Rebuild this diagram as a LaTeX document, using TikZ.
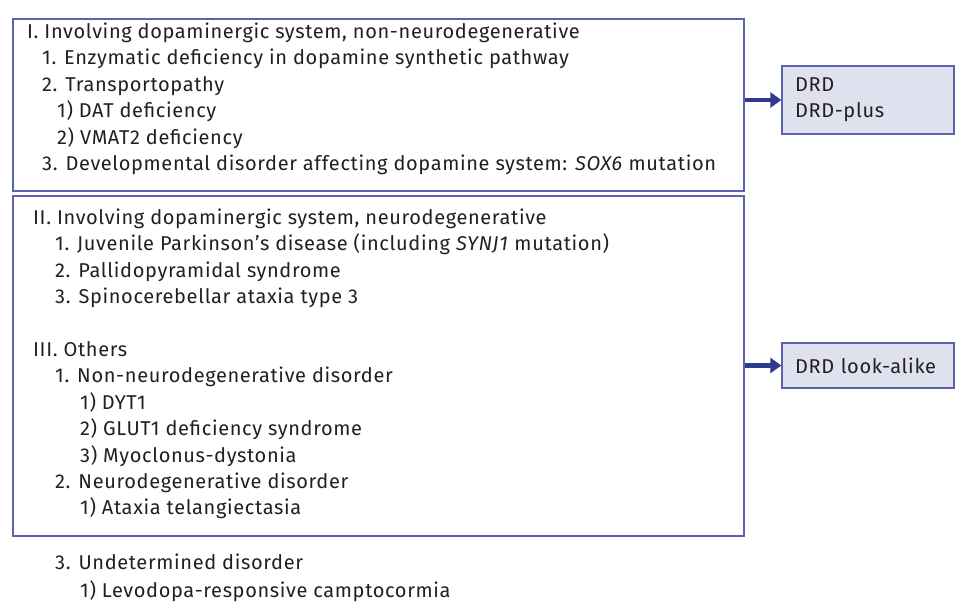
\documentclass[tikz,border=0pt]{standalone}
\usepackage{fontspec}
\setmainfont{Fira Sans}[LetterSpace=3.2]
\usetikzlibrary{arrows.meta}
\definecolor{boxline}{HTML}{5B63AC}
\definecolor{arrowblue}{HTML}{2E3A8C}
\definecolor{boxfill}{HTML}{DFE1EE}
\definecolor{txt}{HTML}{231F20}
\tikzset{
  line/.style={anchor=base west,inner sep=0pt,text=txt,font=\fontsize{20}{26.4}\selectfont},
  bigbox/.style={draw=boxline,line width=1.3pt,minimum width=731pt,inner sep=0pt},
  sidebox/.style={draw=boxline,fill=boxfill,line width=1.3pt,minimum width=172pt,text width=146pt,inner xsep=13pt,align=left,text=txt,font=\fontsize{20}{26.4}\selectfont},
  link/.style={draw=arrowblue,line width=4.5pt,-{Triangle[length=11pt,width=15pt]}}
}
\begin{document}
\begin{tikzpicture}[x=1pt,y=-1pt]
\useasboundingbox(0,0)rectangle(956,602);
% the two boxes on the left
\node[bigbox,minimum height=172pt](boxA)at(378.5,105){};
\node[bigbox,minimum height=340pt](boxB)at(378.5,366){};
% list lines: x/baseline/text
\foreach \n/\x/\y/\t in {
 a1/27/38.5/{I. Involving dopaminergic system, non-neurodegenerative},
 a2/42/64.9/{1. Enzymatic deficiency in dopamine synthetic pathway},
 a3/42/91.3/{2. Transportopathy},
 a4/57/117.7/{1) DAT deficiency},
 a5/57/144.1/{2) VMAT2 deficiency},
 a6/42/170.5/{3. Developmental disorder affecting dopamine system: \textit{SOX6} mutation},
 b1/33/224.5/{II. Involving dopaminergic system, neurodegenerative},
 b2/55/250.9/{1. Juvenile Parkinson’s disease (including \textit{SYNJ1} mutation)},
 b3/55/277.3/{2. Pallidopyramidal syndrome},
 b4/55/303.7/{3. Spinocerebellar ataxia type 3},
 b5/33/356.5/{III. Others},
 b6/55/382.9/{1. Non-neurodegenerative disorder},
 b7/80/409.3/{1) DYT1},
 b8/80/435.7/{2) GLUT1 deficiency syndrome},
 b9/80/462.1/{3) Myoclonus-dystonia},
 b10/55/488.5/{2. Neurodegenerative disorder},
 b11/80/514.9/{1) Ataxia telangiectasia},
 c1/55/569.5/{3. Undetermined disorder},
 c2/80/597/{1) Levodopa-responsive camptocormia}}
 \node[line](\n)at(\x,\y){\t};
% boxes on the right
\node[sidebox,minimum height=68pt](drd)at(868,100){DRD\\DRD-plus};
\node[sidebox,minimum height=45pt](alike)at(868,365.5){DRD look-alike};
\draw[link](drd.west-|boxA.east)--(drd.west);
\draw[link](alike.west-|boxB.east)--(alike.west);
\end{tikzpicture}
\end{document}
